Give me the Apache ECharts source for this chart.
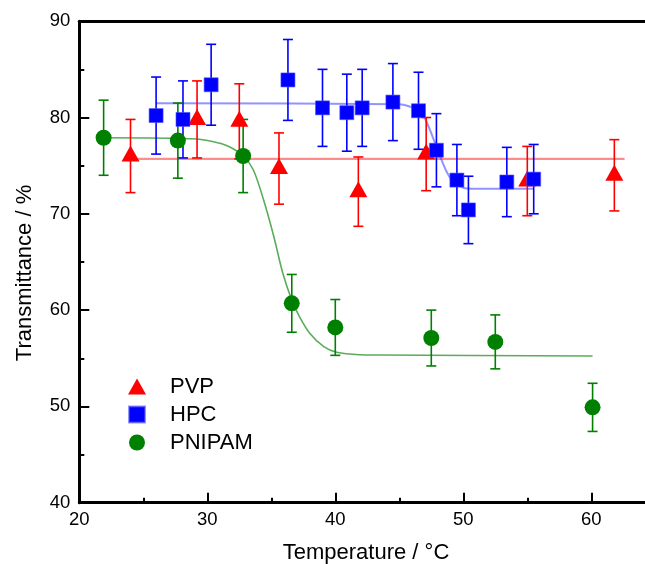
<!DOCTYPE html>
<html>
<head>
<meta charset="utf-8">
<script src="https://cdn.jsdelivr.net/npm/echarts@6/dist/echarts.min.js"></script>
<style>
html,body{margin:0;padding:0;background:#fff;}
#chart{width:645px;height:564px;}
</style>
</head>
<body>
<div id="chart"></div>
<script>
// ---- data ----
const seriesNames = ['PVP', 'HPC', 'PNIPAM'];
const xTicks = [20, 30, 40, 50, 60];
const yTicks = [40, 50, 60, 70, 80, 90];

const pvpX   = [24.0, 29.2, 32.5, 35.6, 41.8, 47.1, 55.0, 61.8];
const pvpY   = [76.0, 79.8, 79.6, 74.7, 72.3, 76.2, 73.4, 74.0];
const pvpErr = [3.8, 4.0, 3.9, 3.7, 3.6, 3.8, 3.6, 3.7];

const hpcX   = [26.0, 28.1, 30.3, 36.3, 39.0, 40.9, 42.1, 44.5, 46.5, 47.9, 49.5, 50.4, 53.4, 55.5];
const hpcY   = [80.2, 79.8, 83.4, 83.9, 81.0, 80.5, 81.0, 81.6, 80.7, 76.6, 73.5, 70.4, 73.3, 73.6];
const hpcErr = [4.0, 4.0, 4.2, 4.2, 4.0, 4.0, 4.0, 4.0, 4.0, 3.8, 3.7, 3.5, 3.6, 3.6];

const pnX   = [21.9, 27.7, 32.8, 36.6, 40.0, 47.5, 52.5, 60.1];
const pnY   = [77.9, 77.6, 76.0, 60.7, 58.2, 57.1, 56.7, 49.9];
const pnErr = [3.9, 3.9, 3.8, 3.0, 2.9, 2.9, 2.8, 2.5];

// fitted curves, points
const pvpFitX = [24.0, 62.6];
const pvpFitY = [75.7, 75.7];

const hpcFitX = [26.0, 45.0, 45.8, 46.6, 47.0, 47.5, 47.9, 48.3, 48.7, 49.2, 50.0, 50.8, 55.5];
const hpcFitY = [81.47, 81.37, 81.14, 80.71, 79.92, 78.36, 76.97, 75.59, 74.37, 73.33, 72.71, 72.61, 72.61];

const pnFitX = [21.9, 29.2, 31.0, 31.8, 32.8, 33.6, 34.4, 35.2, 35.9, 36.6, 37.2, 38.0, 39.1, 40.1, 41.9, 43.5, 60.1];
const pnFitY = [77.90, 77.77, 77.32, 76.91, 76.03, 74.55, 71.43, 67.62, 63.82, 61.05, 59.31, 57.59, 56.20, 55.62, 55.37, 55.34, 55.23];

// ---- helpers ----
const zip = (xs, ys) => xs.map((x, i) => [x, ys[i]]);
const errData = (xs, ys, es) => xs.map((x, i) => [x, ys[i] - es[i], ys[i] + es[i]]);

const FONT = '"Liberation Sans", Arial, sans-serif';
const RED = '#ff0000', BLUE = '#0000ff', GREEN = '#008000';

function errorBar(name, data, color) {
  return {
    name: name,
    type: 'custom',
    data: data,
    z: 3,
    silent: true,
    renderItem: function (params, api) {
      const x = api.value(0);
      const lo = api.coord([x, api.value(1)]);
      const hi = api.coord([x, api.value(2)]);
      const w = 5;
      const st = { stroke: color, lineWidth: 1.6 };
      return {
        type: 'group',
        children: [
          { type: 'line', shape: { x1: lo[0], y1: lo[1], x2: hi[0], y2: hi[1] }, style: st },
          { type: 'line', shape: { x1: lo[0] - w, y1: lo[1], x2: lo[0] + w, y2: lo[1] }, style: st },
          { type: 'line', shape: { x1: hi[0] - w, y1: hi[1], x2: hi[0] + w, y2: hi[1] }, style: st }
        ]
      };
    }
  };
}

function fitLine(name, xs, ys, color, width) {
  return {
    name: name,
    type: 'line',
    data: zip(xs, ys),
    showSymbol: false,
    symbol: 'none',
    smooth: 0.3,
    z: 2,
    silent: true,
    lineStyle: { color: color, width: width }
  };
}

const chart = echarts.init(document.getElementById('chart'), null, { renderer: 'canvas' });

const axisLineStyle = { color: '#000', width: 3 };

const option = {
  animation: false,
  backgroundColor: '#fff',
  textStyle: { fontFamily: FONT },
  grid: { left: 79.3, top: 21.2, width: 640, height: 481.5, containLabel: false, outerBoundsMode: 'none' },
  xAxis: [
    {
      type: 'value',
      min: 20, max: 70, interval: 10,
      axisLine: { show: true, onZero: false, lineStyle: axisLineStyle },
      axisTick: { show: true, inside: true, length: 10, lineStyle: { color: '#000', width: 2 } },
      minorTick: { show: true, splitNumber: 2, length: 5, lineStyle: { color: '#000', width: 2 } },
      splitLine: { show: false },
      axisLabel: {
        show: true, margin: 8, color: '#000', fontSize: 18.5, fontFamily: FONT,
        formatter: v => (xTicks.indexOf(v) >= 0 ? String(v) : '')
      }
    },
    {
      type: 'value', position: 'top',
      min: 20, max: 70,
      axisLine: { show: true, onZero: false, lineStyle: axisLineStyle },
      axisTick: { show: false }, axisLabel: { show: false }, splitLine: { show: false }
    }
  ],
  yAxis: {
    type: 'value',
    min: 40, max: 90, interval: 10,
    axisLine: { show: true, onZero: false, lineStyle: axisLineStyle },
    axisTick: { show: true, inside: true, length: 10, lineStyle: { color: '#000', width: 2 } },
    minorTick: { show: true, splitNumber: 2, length: 5, lineStyle: { color: '#000', width: 2 } },
    splitLine: { show: false },
    axisLabel: {
      show: true, margin: 9, color: '#000', fontSize: 18.5, fontFamily: FONT,
      formatter: v => (yTicks.indexOf(v) >= 0 ? String(v) : '')
    }
  },
  legend: {
    orient: 'vertical',
    left: 123, top: 370.5,
    itemWidth: 18, itemHeight: 16, itemGap: 6,
    selectedMode: false,
    textStyle: { fontSize: 22, color: '#000', fontFamily: FONT, padding: [0, 0, 0, 19] },
    data: [
      { name: seriesNames[0], icon: 'triangle' },
      { name: seriesNames[1], icon: 'path://M1,1L15,1L15,15L1,15Z' },
      { name: seriesNames[2], icon: 'circle' }
    ]
  },
  graphic: [
    {
      type: 'text', x: 25, y: 273, rotation: Math.PI / 2,
      style: { text: 'Transmittance / %', fontSize: 22, fontFamily: FONT, fill: '#000', align: 'center', verticalAlign: 'middle' }
    },
    {
      type: 'text', x: 366, y: 553,
      style: { text: 'Temperature / °C', fontSize: 22, fontFamily: FONT, fill: '#000', align: 'center', verticalAlign: 'middle' }
    }
  ],
  series: [
    fitLine('PVP fit', pvpFitX, pvpFitY, 'rgba(255,0,0,0.45)', 2.2),
    fitLine('HPC fit', hpcFitX, hpcFitY, 'rgba(40,40,255,0.5)', 2),
    fitLine('PNIPAM fit', pnFitX, pnFitY, 'rgba(0,128,0,0.65)', 1.6),
    errorBar('PVP err', errData(pvpX, pvpY, pvpErr), RED),
    errorBar('HPC err', errData(hpcX, hpcY, hpcErr), BLUE),
    errorBar('PNIPAM err', errData(pnX, pnY, pnErr), GREEN),
    {
      name: seriesNames[0], type: 'scatter', data: zip(pvpX, pvpY),
      symbol: 'triangle', symbolSize: [18, 16], symbolOffset: [0, -2.5],
      itemStyle: { color: RED, opacity: 1 }, z: 4
    },
    {
      name: seriesNames[1], type: 'scatter', data: zip(hpcX, hpcY),
      symbol: 'rect', symbolSize: 14,
      itemStyle: { color: BLUE, opacity: 1, borderColor: 'rgba(80,80,255,0.6)', borderWidth: 1 }, z: 5
    },
    {
      name: seriesNames[2], type: 'scatter', data: zip(pnX, pnY),
      symbol: 'circle', symbolSize: 16,
      itemStyle: { color: GREEN, opacity: 1 }, z: 6
    }
  ]
};

chart.setOption(option);
</script>
</body>
</html>
